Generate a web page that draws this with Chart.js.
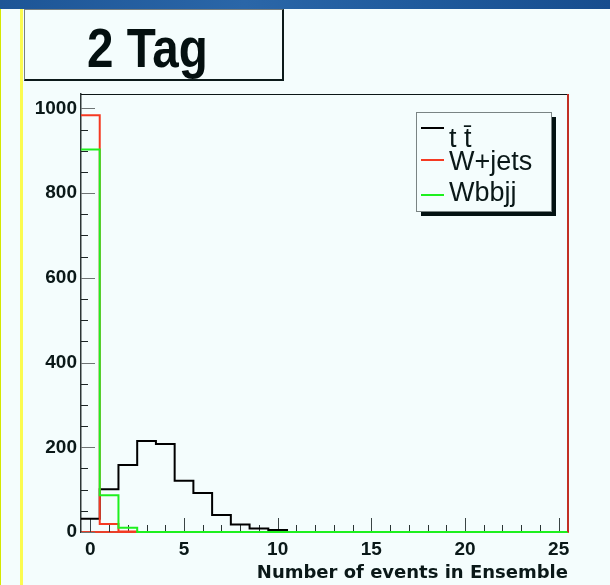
<!DOCTYPE html>
<html>
<head>
<meta charset="utf-8">
<script src="https://cdn.jsdelivr.net/npm/chart.js@4.4.0/dist/chart.umd.min.js"></script>
<style>
    html, body { margin: 0; padding: 0; }
    body { width: 610px; height: 585px; position: relative; overflow: hidden; background: #f4fdfd; font-family: "Liberation Sans", Arial, sans-serif; }
    #band { position: absolute; left: 0; top: 0; width: 610px; height: 9px; background: linear-gradient(90deg, #1d5596, #2a66a8 40%, #1f5a9c 70%, #174d8e); }
    #edge { position: absolute; left: 0; top: 9px; width: 1px; height: 576px; background: #d6e800; }
    #rule { position: absolute; left: 20px; top: 9px; width: 3px; height: 576px; background: #fbfb50; }
    #titleBox { position: absolute; left: 24px; top: 9px; width: 257px; height: 69px; border-left: 1px solid #7a8080; border-top: 1px solid #7a8080; border-right: 2px solid #0c1a1a; border-bottom: 2px solid #0c1a1a; }
    #titleBox span { position: absolute; left: 62px; top: 10px; font-weight: bold; font-size: 56px; line-height: 56px; white-space: nowrap; transform: scaleX(0.85); transform-origin: left top; color: #041010; }
    #wrap { position: absolute; left: 0; top: 0; width: 610px; height: 585px; }
</style>
</head>
<body>
<div id="band"></div>
<div id="edge"></div>
<div id="rule"></div>
<div id="titleBox"><span>2 Tag</span></div>
<div id="wrap"><canvas id="myChart" width="610" height="585"></canvas></div>

<script>
// bins are centred on 0..25, width 1
const bins = [0, 1, 2, 3, 4, 5, 6, 7, 8, 9, 10, 11, 12, 13, 14, 15, 16, 17, 18, 19, 20, 21, 22, 23, 24, 25];
const ttbar = [31, 101, 158, 215, 208, 121, 92, 40, 18, 8, 5, 0, 0, 0, 0, 0, 0, 0, 0, 0, 0, 0, 0, 0, 0, 0];
const wjets = [984, 19, 1, 0, 0, 0, 0, 0, 0, 0, 0, 0, 0, 0, 0, 0, 0, 0, 0, 0, 0, 0, 0, 0, 0, 0];
const wbbjj = [903, 87, 10, 0, 0, 0, 0, 0, 0, 0, 0, 0, 0, 0, 0, 0, 0, 0, 0, 0, 0, 0, 0, 0, 0, 0];
const xTicks = [0, 5, 10, 15, 20, 25];
const yTicks = [0, 200, 400, 600, 800, 1000];
const xTitle = 'Number of events in Ensemble';

const FONT = '"Liberation Sans", Arial, sans-serif';
const WIDE = '"DejaVu Sans", "Liberation Sans", sans-serif';
const TEXT = '#0a1818';

// turn bin contents into step points on the bin edges
function histPoints(values) {
    let pts = [];
    for (let i = 0; i < values.length; i++) {
        pts.push({ x: bins[i] - 0.5, y: values[i] });
    }
    pts.push({ x: bins[bins.length - 1] + 0.5, y: values[values.length - 1] });
    return pts;
}

const frameTicks = {
    id: 'frameTicks',
    beforeDatasetsDraw(chart) {
        const ctx = chart.ctx;
        const xs = chart.scales.x;
        const ys = chart.scales.y;
        const area = chart.chartArea;
        ctx.save();
        ctx.lineWidth = 1;
        for (let v = 0; v <= 1000; v += 50) {
            let py = Math.round(ys.getPixelForValue(v)) + 0.5;
            let major = v % 200 == 0;
            ctx.strokeStyle = major ? '#6e7474' : '#1c2626';
            ctx.beginPath();
            ctx.moveTo(area.left, py);
            ctx.lineTo(area.left + (major ? 14 : 7), py);
            ctx.stroke();
        }
        for (let i = 0; i < bins.length; i++) {
            let px = Math.round(xs.getPixelForValue(bins[i])) + 0.5;
            let major = bins[i] % 5 == 0;
            ctx.strokeStyle = major ? '#3a4444' : '#2a3434';
            ctx.beginPath();
            ctx.moveTo(px, area.bottom);
            ctx.lineTo(px, area.bottom - (major ? 14 : 7));
            ctx.stroke();
        }
        ctx.restore();
    },
    afterDatasetsDraw(chart) {
        const ctx = chart.ctx;
        const area = chart.chartArea;
        ctx.save();
        ctx.strokeStyle = '#0c1616';
        ctx.lineWidth = 1;
        ctx.beginPath();
        ctx.moveTo(area.left, area.top + 0.5);
        ctx.lineTo(area.right, area.top + 0.5);
        ctx.stroke();
        ctx.strokeStyle = '#c23024';
        ctx.lineWidth = 2;
        ctx.beginPath();
        ctx.moveTo(area.right, area.top);
        ctx.lineTo(area.right, area.bottom);
        ctx.stroke();
        ctx.restore();
    }
};

// ROOT style legend box with a drop shadow
const rootLegend = {
    id: 'rootLegend',
    afterDraw(chart) {
        const ctx = chart.ctx;
        const box = { x: 416, y: 112, w: 135, h: 99 };
        const rows = [
            { line: 128, text: 147 },
            { line: 160, text: 170 },
            { line: 195, text: 201 }
        ];
        ctx.save();
        ctx.fillStyle = '#041212';
        ctx.fillRect(box.x + 5, box.y + 5, box.w, box.h);
        ctx.fillStyle = '#f4fdfd';
        ctx.fillRect(box.x, box.y, box.w, box.h);
        ctx.strokeStyle = '#7a8484';
        ctx.lineWidth = 1;
        ctx.strokeRect(box.x + 0.5, box.y + 0.5, box.w, box.h);
        ctx.font = '27px ' + FONT;
        ctx.textBaseline = 'alphabetic';
        chart.data.datasets.forEach((ds, i) => {
            let r = rows[i];
            ctx.strokeStyle = ds.borderColor;
            ctx.lineWidth = 2;
            ctx.beginPath();
            ctx.moveTo(421, r.line);
            ctx.lineTo(444, r.line);
            ctx.stroke();
            ctx.fillStyle = TEXT;
            ctx.fillText(ds.label, 449, r.text);
        });
        ctx.restore();
    }
};

const config = {
    type: 'line',
    data: {
        datasets: [{
            label: 't t\u0304',
            data: histPoints(ttbar),
            borderColor: '#000000',
            borderWidth: 2,
            stepped: true,
            pointRadius: 0,
            fill: false,
            clip: 4,
            order: 3
        }, {
            label: 'W+jets',
            data: histPoints(wjets),
            borderColor: '#f53a22',
            borderWidth: 2,
            stepped: true,
            pointRadius: 0,
            fill: false,
            clip: 4,
            order: 2
        }, {
            label: 'Wbbjj',
            data: histPoints(wbbjj),
            borderColor: '#1ef01e',
            borderWidth: 2,
            stepped: true,
            pointRadius: 0,
            fill: false,
            clip: 4,
            order: 1
        }]
    },
    options: {
        responsive: false,
        animation: false,
        devicePixelRatio: 1,
        layout: { padding: { left: 0, top: 94, right: 42, bottom: 0 } },
        plugins: {
            legend: { display: false },
            tooltip: { enabled: false }
        },
        scales: {
            x: {
                type: 'linear',
                min: -0.5,
                max: 25.5,
                afterBuildTicks: (s) => { s.ticks = xTicks.map(v => ({ value: v })); },
                afterFit: (s) => { s.height = 53; },
                grid: { display: false, drawTicks: false },
                border: { color: '#e8402a', width: 2 },
                ticks: {
                    font: { family: FONT, size: 19, weight: 'bold' },
                    color: TEXT,
                    padding: 6,
                    maxRotation: 0,
                    autoSkip: false,
                    callback: (v) => String(v)
                },
                title: {
                    display: true,
                    text: xTitle,
                    align: 'end',
                    color: TEXT,
                    font: { family: WIDE, size: 18, weight: 'bold' },
                    padding: { top: 0, bottom: 1 }
                }
            },
            y: {
                min: 0,
                max: 1034,
                afterBuildTicks: (s) => { s.ticks = yTicks.map(v => ({ value: v })); },
                afterFit: (s) => { s.width = 81; },
                grid: { display: false, drawTicks: false },
                border: { color: '#2c3636', width: 1.5 },
                ticks: {
                    font: { family: FONT, size: 19, weight: 'bold' },
                    color: TEXT,
                    padding: 4,
                    callback: (v) => String(v)
                }
            }
        }
    },
    plugins: [frameTicks, rootLegend]
};

let myChart = new Chart(document.getElementById('myChart'), config);
</script>
</body>
</html>
